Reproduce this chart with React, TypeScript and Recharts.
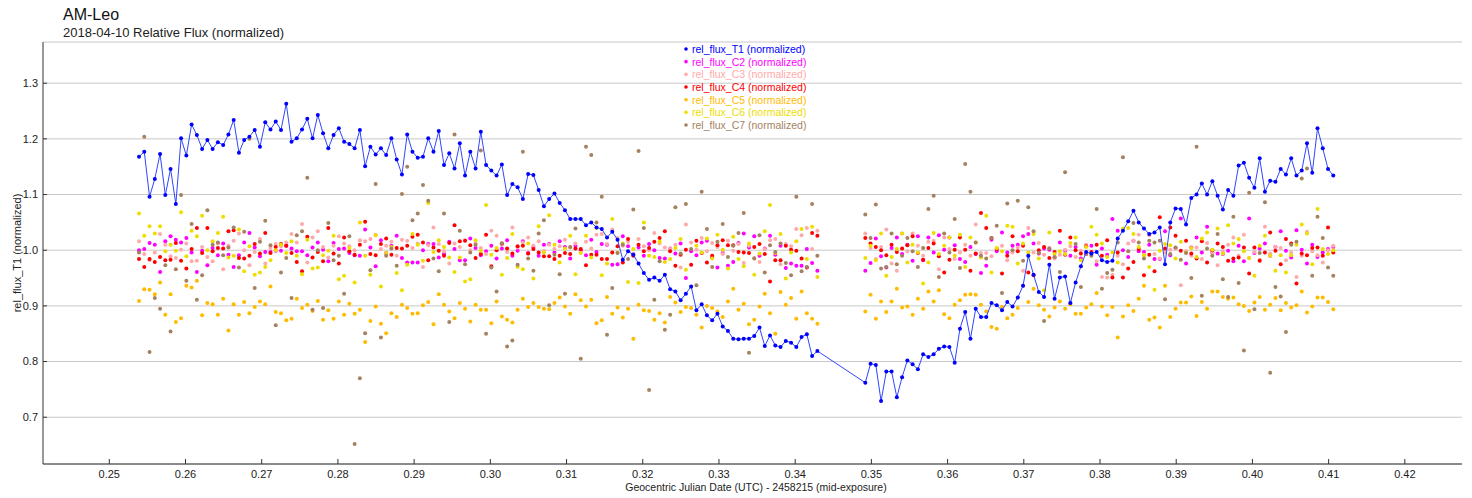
import React from 'react';
import { ScatterChart, Scatter, XAxis, YAxis, CartesianGrid } from 'recharts';

// mid-exposure times (GJD - 2458215); gap between the two runs
const TIME = [
  0.25390, 0.25459, 0.25528, 0.25597, 0.25666, 0.25735, 0.25804, 0.25873, 0.25942, 0.26011,
  0.26080, 0.26149, 0.26218, 0.26287, 0.26356, 0.26425, 0.26494, 0.26563, 0.26632, 0.26701,
  0.26770, 0.26839, 0.26908, 0.26977, 0.27046, 0.27115, 0.27184, 0.27253, 0.27322, 0.27391,
  0.27460, 0.27529, 0.27598, 0.27667, 0.27736, 0.27805, 0.27874, 0.27943, 0.28012, 0.28081,
  0.28150, 0.28219, 0.28288, 0.28357, 0.28426, 0.28495, 0.28564, 0.28633, 0.28702, 0.28771,
  0.28840, 0.28909, 0.28978, 0.29047, 0.29116, 0.29185, 0.29254, 0.29323, 0.29392, 0.29461,
  0.29530, 0.29599, 0.29668, 0.29737, 0.29806, 0.29875, 0.29944, 0.30013, 0.30082, 0.30151,
  0.30220, 0.30289, 0.30358, 0.30427, 0.30496, 0.30565, 0.30634, 0.30703, 0.30772, 0.30841,
  0.30910, 0.30979, 0.31048, 0.31117, 0.31186, 0.31255, 0.31324, 0.31393, 0.31462, 0.31531,
  0.31600, 0.31669, 0.31738, 0.31807, 0.31876, 0.31945, 0.32014, 0.32083, 0.32152, 0.32221,
  0.32290, 0.32359, 0.32428, 0.32497, 0.32566, 0.32635, 0.32704, 0.32773, 0.32842, 0.32911,
  0.32980, 0.33049, 0.33118, 0.33187, 0.33256, 0.33325, 0.33394, 0.33463, 0.33532, 0.33601,
  0.33670, 0.33739, 0.33808, 0.33877, 0.33946, 0.34015, 0.34084, 0.34153, 0.34222, 0.34291,
  0.34920, 0.34989, 0.35058, 0.35127, 0.35196, 0.35265, 0.35334, 0.35403, 0.35472, 0.35541,
  0.35610, 0.35679, 0.35748, 0.35817, 0.35886, 0.35955, 0.36024, 0.36093, 0.36162, 0.36231,
  0.36300, 0.36369, 0.36438, 0.36507, 0.36576, 0.36645, 0.36714, 0.36783, 0.36852, 0.36921,
  0.36990, 0.37059, 0.37128, 0.37197, 0.37266, 0.37335, 0.37404, 0.37473, 0.37542, 0.37611,
  0.37680, 0.37749, 0.37818, 0.37887, 0.37956, 0.38025, 0.38094, 0.38163, 0.38232, 0.38301,
  0.38370, 0.38439, 0.38508, 0.38577, 0.38646, 0.38715, 0.38784, 0.38853, 0.38922, 0.38991,
  0.39060, 0.39129, 0.39198, 0.39267, 0.39336, 0.39405, 0.39474, 0.39543, 0.39612, 0.39681,
  0.39750, 0.39819, 0.39888, 0.39957, 0.40026, 0.40095, 0.40164, 0.40233, 0.40302, 0.40371,
  0.40440, 0.40509, 0.40578, 0.40647, 0.40716, 0.40785, 0.40854, 0.40923, 0.40992, 0.41061,
];

const T1 = [
  1.168, 1.177, 1.096, 1.128, 1.173, 1.099, 1.146, 1.083, 1.201, 1.170,
  1.226, 1.207, 1.182, 1.198, 1.182, 1.194, 1.189, 1.208, 1.234, 1.175,
  1.198, 1.204, 1.216, 1.186, 1.230, 1.217, 1.231, 1.216, 1.263, 1.195,
  1.201, 1.217, 1.236, 1.201, 1.243, 1.210, 1.183, 1.207, 1.219, 1.195,
  1.191, 1.183, 1.216, 1.151, 1.186, 1.172, 1.183, 1.171, 1.201, 1.163,
  1.136, 1.208, 1.177, 1.166, 1.168, 1.201, 1.177, 1.214, 1.153, 1.174,
  1.147, 1.192, 1.134, 1.177, 1.147, 1.213, 1.153, 1.143, 1.134, 1.154,
  1.099, 1.119, 1.113, 1.092, 1.137, 1.135, 1.108, 1.079, 1.092, 1.102,
  1.085, 1.072, 1.056, 1.056, 1.056, 1.045, 1.050, 1.041, 1.038, 1.023,
  1.033, 1.019, 0.983, 0.998, 0.992, 0.976, 0.959, 0.947, 0.951, 0.945,
  0.956, 0.930, 0.926, 0.910, 0.922, 0.935, 0.892, 0.903, 0.883, 0.874,
  0.886, 0.863, 0.855, 0.841, 0.840, 0.841, 0.841, 0.846, 0.861, 0.828,
  0.847, 0.829, 0.826, 0.837, 0.834, 0.826, 0.844, 0.849, 0.810, 0.819,
  0.762, 0.796, 0.794, 0.729, 0.782, 0.782, 0.736, 0.772, 0.802, 0.795,
  0.786, 0.813, 0.808, 0.813, 0.823, 0.827, 0.826, 0.798, 0.859, 0.889,
  0.841, 0.895, 0.880, 0.880, 0.905, 0.901, 0.892, 0.907, 0.899, 0.915,
  0.936, 0.990, 0.956, 0.925, 0.916, 0.974, 0.913, 0.951, 0.953, 0.905,
  0.942, 0.971, 0.997, 0.994, 0.997, 0.982, 0.979, 0.981, 1.021, 1.035,
  1.052, 1.071, 1.050, 1.039, 1.029, 1.032, 1.041, 0.975, 1.050, 1.075,
  1.074, 1.046, 1.094, 1.100, 1.120, 1.100, 1.124, 1.098, 1.073, 1.108,
  1.098, 1.152, 1.157, 1.130, 1.112, 1.165, 1.105, 1.125, 1.123, 1.146,
  1.136, 1.165, 1.134, 1.143, 1.192, 1.139, 1.219, 1.183, 1.146, 1.134,
];

const C2 = [
  1.000, 1.002, 1.013, 1.010, 0.961, 1.016, 1.025, 1.019, 1.014, 1.022,
  0.996, 0.961, 0.999, 0.973, 1.004, 0.991, 1.012, 0.992, 0.970, 0.991,
  1.014, 1.031, 1.005, 0.989, 0.997, 0.997, 0.999, 0.999, 1.008, 1.003,
  0.998, 0.998, 0.991, 1.005, 1.014, 1.001, 0.980, 1.013, 1.002, 1.003,
  0.995, 0.991, 0.990, 1.037, 1.005, 0.971, 1.018, 0.995, 1.008, 1.026,
  0.986, 0.978, 0.978, 0.978, 1.000, 1.011, 1.011, 0.987, 0.993, 1.015,
  1.002, 0.982, 0.982, 1.021, 1.004, 0.991, 0.998, 1.008, 0.985, 1.003,
  1.018, 0.990, 0.999, 1.016, 0.995, 1.006, 0.990, 1.010, 1.011, 0.996,
  1.016, 1.006, 0.985, 1.008, 1.000, 0.991, 1.019, 0.997, 1.011, 1.010,
  0.974, 0.975, 1.025, 1.007, 0.993, 1.005, 0.990, 1.011, 1.000, 0.986,
  0.985, 1.003, 0.994, 1.012, 0.950, 0.998, 0.991, 1.014, 1.017, 0.987,
  0.969, 0.995, 0.972, 0.979, 1.013, 1.030, 1.005, 1.025, 0.990, 1.003,
  1.026, 0.992, 1.008, 0.968, 0.976, 0.972, 0.972, 1.002, 0.977, 0.963,
  0.963, 0.977, 1.021, 0.989, 0.969, 1.004, 1.023, 0.993, 1.010, 0.981,
  1.025, 0.982, 1.023, 0.996, 1.027, 1.001, 1.023, 1.009, 0.984, 0.979,
  1.006, 0.993, 0.959, 0.972, 1.019, 0.998, 1.032, 0.996, 1.008, 1.010,
  1.025, 1.029, 1.012, 0.994, 1.003, 1.001, 0.987, 1.014, 0.999, 0.990,
  1.006, 0.985, 0.993, 1.008, 0.974, 1.003, 0.992, 1.056, 1.035, 1.000,
  0.988, 1.017, 0.998, 0.997, 1.010, 0.984, 0.984, 1.034, 0.991, 1.004,
  1.057, 0.976, 1.005, 1.023, 0.996, 1.042, 0.996, 0.994, 0.993, 0.999,
  0.980, 1.008, 0.980, 1.057, 0.995, 1.003, 1.012, 0.990, 1.006, 1.034,
  0.999, 0.987, 1.036, 1.001, 0.976, 1.010, 0.988, 0.996, 1.002, 1.006,
];

const C3 = [
  1.016, 0.993, 0.982, 0.996, 1.029, 1.010, 0.989, 0.986, 1.001, 1.012,
  0.980, 0.981, 1.006, 0.988, 0.980, 1.012, 0.966, 1.008, 1.017, 1.030,
  1.000, 0.973, 0.997, 1.020, 0.976, 1.004, 1.011, 1.007, 1.014, 1.029,
  1.014, 1.047, 0.978, 1.023, 1.034, 1.006, 0.987, 1.008, 1.025, 1.012,
  1.007, 1.000, 1.018, 1.016, 1.020, 1.028, 1.002, 1.008, 1.015, 0.990,
  1.019, 1.017, 1.004, 1.012, 0.970, 1.009, 1.041, 1.011, 0.998, 0.976,
  1.012, 1.006, 1.018, 1.000, 1.013, 1.004, 0.993, 1.035, 1.026, 1.010,
  0.997, 1.041, 1.005, 1.014, 1.023, 1.008, 1.016, 0.999, 1.010, 1.002,
  1.007, 1.019, 1.005, 1.012, 0.996, 1.015, 1.003, 1.028, 1.029, 1.011,
  1.037, 1.022, 1.008, 1.015, 0.993, 1.020, 1.007, 1.000, 1.031, 1.012,
  1.005, 1.003, 1.010, 0.969, 1.046, 1.014, 1.001, 1.022, 0.998, 1.013,
  1.006, 0.993, 1.017, 0.999, 1.011, 0.977, 1.008, 0.986, 0.979, 1.002,
  1.018, 1.020, 0.975, 1.011, 1.007, 1.038, 1.027, 1.040, 1.002, 1.035,
  1.030, 1.004, 0.984, 1.006, 1.037, 0.976, 0.963, 1.030, 0.998, 1.030,
  1.008, 0.990, 1.015, 1.017, 0.966, 1.023, 1.002, 0.984, 0.996, 1.010,
  0.990, 1.046, 0.995, 0.995, 0.989, 1.003, 1.008, 0.982, 0.996, 1.005,
  0.963, 1.040, 0.996, 1.013, 0.992, 1.004, 0.985, 0.992, 1.001, 1.007,
  0.988, 0.999, 1.010, 0.994, 0.980, 0.952, 0.951, 0.956, 0.990, 0.975,
  1.012, 1.017, 1.028, 0.992, 1.027, 0.993, 0.985, 0.996, 1.001, 1.003,
  0.937, 0.998, 0.990, 1.005, 0.984, 1.013, 0.995, 0.973, 0.998, 1.010,
  1.023, 0.990, 1.028, 0.986, 0.997, 0.983, 1.042, 0.994, 1.006, 1.004,
  0.982, 0.996, 0.952, 0.990, 1.033, 0.998, 0.991, 0.978, 1.000, 1.008,
];

const C4 = [
  0.984, 0.970, 0.984, 0.979, 0.988, 0.982, 0.983, 1.013, 0.981, 0.967,
  1.002, 1.040, 0.995, 1.040, 0.998, 1.004, 1.003, 1.034, 1.036, 0.986,
  0.985, 0.990, 1.011, 0.994, 1.031, 0.995, 1.006, 1.011, 1.008, 0.995,
  0.979, 0.962, 1.024, 0.987, 0.997, 0.980, 1.040, 0.994, 0.976, 1.023,
  0.998, 0.992, 1.010, 1.051, 0.993, 0.991, 1.011, 1.021, 0.992, 1.004,
  1.003, 1.008, 1.024, 1.028, 1.014, 0.982, 1.005, 0.999, 0.990, 1.013,
  1.045, 1.016, 1.017, 1.009, 0.986, 0.993, 1.028, 0.971, 1.000, 1.012,
  1.003, 0.994, 1.007, 1.008, 0.994, 1.002, 0.996, 0.989, 0.989, 0.984,
  0.990, 0.995, 0.993, 1.003, 1.002, 0.973, 0.992, 0.992, 0.984, 0.984,
  0.996, 1.007, 0.978, 1.020, 0.990, 1.010, 0.998, 1.004, 1.015, 1.022,
  1.034, 0.998, 0.972, 0.992, 1.001, 0.974, 1.017, 0.995, 0.978, 0.990,
  1.009, 1.018, 1.009, 1.009, 0.997, 0.996, 0.995, 1.006, 1.011, 0.993,
  0.944, 0.982, 0.982, 1.008, 1.001, 0.999, 0.985, 0.969, 1.031, 1.026,
  1.022, 1.012, 1.006, 1.000, 0.991, 1.010, 0.997, 1.003, 1.009, 1.025,
  0.995, 0.983, 1.004, 1.012, 0.989, 0.960, 0.983, 1.001, 1.023, 1.001,
  0.963, 0.994, 1.067, 1.040, 1.022, 1.002, 0.958, 0.990, 1.025, 0.998,
  1.008, 0.960, 0.955, 1.000, 1.006, 0.986, 0.997, 1.035, 0.992, 1.023,
  1.000, 0.994, 1.007, 0.997, 1.010, 0.990, 1.018, 0.951, 0.996, 0.951,
  0.967, 0.979, 1.002, 0.955, 0.992, 0.962, 1.059, 1.003, 1.041, 1.026,
  0.999, 1.017, 0.994, 0.985, 1.016, 0.978, 1.000, 1.012, 1.006, 0.981,
  0.985, 0.987, 1.005, 0.958, 1.005, 0.981, 0.996, 1.032, 0.999, 0.975,
  1.020, 1.012, 0.940, 0.994, 0.991, 1.004, 1.005, 0.990, 1.041, 0.996,
];

const C5 = [
  0.909, 0.930, 0.929, 0.921, 0.942, 0.884, 0.921, 0.871, 0.878, 0.936,
  0.933, 0.945, 0.883, 0.905, 0.903, 0.884, 0.913, 0.856, 0.903, 0.884,
  0.907, 0.887, 0.898, 0.908, 0.903, 0.935, 0.889, 0.887, 0.874, 0.877,
  0.913, 0.896, 0.902, 0.891, 0.909, 0.875, 0.892, 0.877, 0.908, 0.884,
  0.904, 0.886, 0.893, 0.835, 0.873, 0.899, 0.868, 0.851, 0.887, 0.880,
  0.902, 0.896, 0.886, 0.887, 0.901, 0.907, 0.867, 0.921, 0.902, 0.890,
  0.878, 0.905, 0.895, 0.872, 0.902, 0.893, 0.893, 0.869, 0.908, 0.881,
  0.875, 0.870, 0.893, 0.913, 0.898, 0.905, 0.898, 0.895, 0.894, 0.905,
  0.915, 0.899, 0.886, 0.921, 0.910, 0.899, 0.911, 0.869, 0.874, 0.916,
  0.886, 0.897, 0.879, 0.895, 0.841, 0.902, 0.892, 0.891, 0.875, 0.887,
  0.870, 0.916, 0.906, 0.889, 0.898, 0.896, 0.884, 0.861, 0.900, 0.896,
  0.890, 0.880, 0.908, 0.931, 0.893, 0.904, 0.867, 0.875, 0.899, 0.922,
  0.887, 0.850, 0.925, 0.902, 0.914, 0.877, 0.926, 0.887, 0.877, 0.868,
  0.890, 0.920, 0.877, 0.908, 0.889, 0.908, 0.931, 0.897, 0.899, 0.884,
  0.913, 0.895, 0.926, 0.908, 0.928, 0.885, 0.878, 0.902, 0.910, 0.920,
  0.921, 0.920, 0.902, 0.890, 0.862, 0.859, 0.898, 0.878, 0.884, 0.896,
  0.936, 0.907, 0.931, 0.901, 0.893, 0.881, 0.897, 0.908, 0.895, 0.903,
  0.886, 0.886, 0.897, 0.903, 0.923, 0.899, 0.883, 0.898, 0.843, 0.881,
  0.901, 0.891, 0.913, 0.936, 0.875, 0.879, 0.861, 0.936, 0.880, 0.895,
  0.906, 0.906, 0.917, 0.882, 0.907, 0.895, 0.926, 0.926, 0.916, 0.913,
  0.915, 0.903, 0.900, 0.891, 0.906, 0.916, 0.893, 0.902, 0.914, 0.892,
  0.905, 0.897, 0.901, 0.926, 0.888, 0.899, 0.915, 0.915, 0.907, 0.894,
];

const C6 = [
  1.066, 1.026, 1.043, 1.030, 1.043, 0.998, 1.010, 0.999, 1.068, 0.989,
  1.035, 1.025, 1.062, 1.000, 1.016, 1.031, 1.060, 0.987, 0.990, 1.037,
  0.962, 1.007, 0.956, 0.960, 0.970, 0.982, 1.000, 1.010, 0.995, 1.016,
  0.990, 0.957, 1.019, 0.967, 0.969, 0.991, 0.999, 1.026, 0.948, 0.954,
  1.004, 0.942, 1.050, 0.990, 0.956, 1.027, 0.935, 0.995, 1.006, 0.959,
  0.928, 0.974, 1.029, 1.010, 0.981, 1.085, 0.997, 1.018, 1.006, 0.987,
  0.961, 0.987, 0.944, 0.948, 1.018, 0.999, 1.081, 0.992, 1.004, 0.956,
  0.986, 1.029, 0.970, 0.966, 1.012, 0.949, 1.043, 0.996, 1.063, 1.010,
  0.978, 1.003, 1.026, 0.957, 0.995, 1.026, 0.987, 1.040, 0.955, 0.976,
  1.056, 0.996, 1.012, 0.943, 1.002, 0.941, 1.050, 0.990, 0.988, 1.015,
  0.979, 0.984, 1.004, 1.020, 0.965, 0.934, 1.008, 0.996, 1.021, 0.985,
  1.028, 1.001, 0.967, 1.024, 0.984, 0.971, 1.012, 0.956, 0.994, 1.034,
  1.081, 0.995, 1.029, 0.949, 0.996, 1.016, 1.038, 0.984, 1.042, 0.952,
  0.986, 1.008, 0.982, 1.030, 0.954, 0.988, 1.002, 1.030, 0.978, 1.010,
  0.996, 0.940, 0.978, 1.031, 0.993, 1.008, 1.023, 0.990, 1.028, 0.970,
  1.023, 1.014, 0.987, 1.062, 0.960, 1.004, 0.998, 1.044, 1.042, 0.976,
  1.012, 0.996, 1.029, 0.985, 0.928, 1.032, 0.993, 0.998, 0.993, 1.013,
  1.023, 0.982, 1.006, 1.042, 1.028, 1.012, 0.988, 0.996, 0.978, 1.039,
  1.040, 1.029, 1.006, 0.991, 0.970, 0.929, 0.999, 1.011, 1.009, 0.985,
  1.015, 0.996, 1.004, 0.988, 1.021, 1.032, 1.001, 1.039, 0.994, 1.045,
  1.012, 1.020, 0.998, 0.986, 0.954, 1.008, 1.026, 0.990, 0.963, 0.991,
  0.960, 0.991, 1.010, 1.046, 1.030, 0.975, 1.074, 1.002, 0.993, 1.000,
];

const C7 = [
  0.996, 1.204, 0.817, 0.914, 0.895, 0.973, 0.854, 0.966, 1.099, 0.945,
  1.047, 0.911, 0.955, 1.072, 1.010, 1.014, 0.991, 1.005, 1.041, 0.969,
  1.033, 1.200, 0.932, 1.015, 1.053, 1.009, 0.865, 0.960, 0.986, 0.914,
  1.027, 1.034, 1.130, 0.893, 1.000, 0.896, 1.049, 0.982, 0.990, 0.922,
  1.025, 0.652, 0.770, 0.851, 0.964, 1.119, 0.843, 0.990, 1.003, 0.972,
  1.101, 1.150, 1.054, 1.066, 1.117, 1.089, 0.985, 0.962, 1.066, 0.871,
  1.208, 1.035, 0.975, 0.996, 1.010, 1.179, 0.850, 0.969, 0.926, 1.012,
  0.827, 0.838, 0.974, 1.177, 0.985, 0.963, 1.030, 1.054, 0.901, 0.992,
  0.957, 0.922, 1.006, 1.039, 0.805, 1.186, 1.171, 1.050, 1.096, 0.848,
  0.932, 0.995, 1.010, 0.984, 1.073, 1.178, 1.040, 0.749, 0.911, 0.980,
  0.857, 0.884, 1.077, 0.994, 1.083, 1.002, 0.937, 1.105, 1.038, 0.970,
  1.015, 1.047, 0.988, 1.008, 1.031, 1.067, 0.816, 0.985, 1.027, 0.960,
  1.009, 0.997, 1.012, 0.977, 0.955, 1.096, 0.962, 0.970, 1.083, 0.990,
  1.064, 1.022, 1.082, 0.967, 0.970, 1.030, 0.975, 0.990, 1.022, 0.998,
  0.970, 1.004, 1.074, 1.098, 0.952, 1.030, 0.996, 1.056, 0.968, 1.155,
  1.105, 1.014, 0.990, 0.985, 1.022, 1.044, 0.923, 1.084, 1.000, 1.089,
  0.981, 1.077, 1.034, 0.995, 0.873, 1.003, 0.988, 0.961, 1.140, 0.905,
  1.011, 0.934, 0.993, 0.990, 1.074, 0.931, 0.959, 0.965, 1.014, 1.167,
  0.998, 1.049, 1.014, 0.985, 1.017, 1.014, 1.017, 0.912, 0.993, 1.005,
  0.983, 0.995, 0.950, 1.186, 0.918, 1.003, 0.990, 1.029, 0.948, 0.916,
  1.060, 0.941, 0.820, 1.103, 0.894, 0.995, 1.086, 0.780, 0.934, 0.917,
  0.853, 1.010, 1.015, 1.129, 1.147, 0.954, 1.060, 1.022, 0.969, 0.954,
];

const X_TICKS = [0.25, 0.26, 0.27, 0.28, 0.29, 0.30, 0.31, 0.32, 0.33, 0.34, 0.35, 0.36, 0.37, 0.38, 0.39, 0.40, 0.41, 0.42];
const Y_TICKS = [0.7, 0.8, 0.9, 1.0, 1.1, 1.2, 1.3];

const X_DOMAIN = [0.2413, 0.4275];
const Y_DOMAIN = [0.616, 1.374];

const SERIES = [
  { name: 'rel_flux_T1 (normalized)', color: '#0000ff', values: T1 },
  { name: 'rel_flux_C2 (normalized)', color: '#ff00ff', values: C2 },
  { name: 'rel_flux_C3 (normalized)', color: '#ffaaaa', values: C3 },
  { name: 'rel_flux_C4 (normalized)', color: '#ff0000', values: C4 },
  { name: 'rel_flux_C5 (normalized)', color: '#ffbb00', values: C5 },
  { name: 'rel_flux_C6 (normalized)', color: '#eedd00', values: C6 },
  { name: 'rel_flux_C7 (normalized)', color: '#a5825f', values: C7 },
];

const FONT = '"Liberation Sans", Arial, sans-serif';

const toPoints = (values: number[]) => values.map((v, i) => ({ x: TIME[i], y: v }));

const dot = (color: string) => (p: any) => <circle cx={p.cx} cy={p.cy} r={2} fill={color} />;

export default function App() {
  const [t1, ...comps] = SERIES;
  return (
    <div style={{ position: 'relative', width: 1472, height: 498, fontFamily: FONT, background: '#fff' }}>
      <style>{'body{margin:0}'}</style>
      <ScatterChart width={1472} height={498} margin={{ top: 42, right: 10, bottom: 0, left: 0 }}>
        <CartesianGrid xAxisId="b" yAxisId="l" vertical={false} stroke="#c8c8c8" />
        <XAxis
          xAxisId="b"
          type="number"
          dataKey="x"
          domain={X_DOMAIN}
          allowDataOverflow
          ticks={X_TICKS}
          interval={0}
          height={34}
          tickSize={-5}
          tickMargin={11}
          tickFormatter={(v: number) => v.toFixed(2)}
          tick={{ fontSize: 11, fill: '#222', fontFamily: FONT }}
          stroke="#333"
        />
        <XAxis
          xAxisId="t"
          orientation="top"
          type="number"
          dataKey="x"
          domain={X_DOMAIN}
          allowDataOverflow
          ticks={X_TICKS}
          interval={0}
          height={0}
          tickSize={-5}
          tickFormatter={() => ''}
          stroke="#333"
        />
        <YAxis
          yAxisId="l"
          type="number"
          dataKey="y"
          domain={Y_DOMAIN}
          allowDataOverflow
          ticks={Y_TICKS}
          interval={0}
          width={43}
          tickSize={-4}
          tickMargin={9}
          tickFormatter={(v: number) => v.toFixed(1)}
          tick={{ fontSize: 11, fill: '#222', fontFamily: FONT }}
          stroke="#333"
        />
        <YAxis
          yAxisId="r"
          orientation="right"
          type="number"
          dataKey="y"
          domain={Y_DOMAIN}
          allowDataOverflow
          ticks={Y_TICKS}
          interval={0}
          width={0}
          tickSize={-4}
          tickFormatter={() => ''}
          stroke="#333"
        />
        {comps.map((s) => (
          <Scatter
            key={s.name}
            xAxisId="b"
            yAxisId="l"
            data={toPoints(s.values)}
            shape={dot(s.color)}
            isAnimationActive={false}
          />
        ))}
        <Scatter
          xAxisId="b"
          yAxisId="l"
          data={toPoints(t1.values)}
          line={{ stroke: '#3045ff', strokeWidth: 1 }}
          lineType="joint"
          shape={dot(t1.color)}
          isAnimationActive={false}
        />
      </ScatterChart>

      <svg width={1472} height={498} style={{ position: 'absolute', left: 0, top: 0, pointerEvents: 'none' }}>
        <text x={63} y={20} fontSize={16} fill="#111" fontFamily={FONT}>AM-Leo</text>
        <text x={63} y={37} fontSize={13} fill="#222" fontFamily={FONT}>2018-04-10 Relative Flux (normalized)</text>
        <text
          transform="translate(21,253) rotate(-90)"
          textAnchor="middle"
          fontSize={11}
          fill="#222"
          fontFamily={FONT}
        >
          rel_flux_T1 (normalized)
        </text>
        <text x={756} y={491} textAnchor="middle" fontSize={10.5} fill="#222" fontFamily={FONT}>
          Geocentric Julian Date (UTC) - 2458215 (mid-exposure)
        </text>
        {SERIES.map((s, i) => (
          <g key={s.name}>
            <circle cx={686} cy={49 + i * 12.67} r={1.8} fill={s.color} />
            <text x={692} y={49 + i * 12.67} dominantBaseline="central" fontSize={10.5} fill={s.color} fontFamily={FONT}>
              {s.name}
            </text>
          </g>
        ))}
      </svg>
    </div>
  );
}
